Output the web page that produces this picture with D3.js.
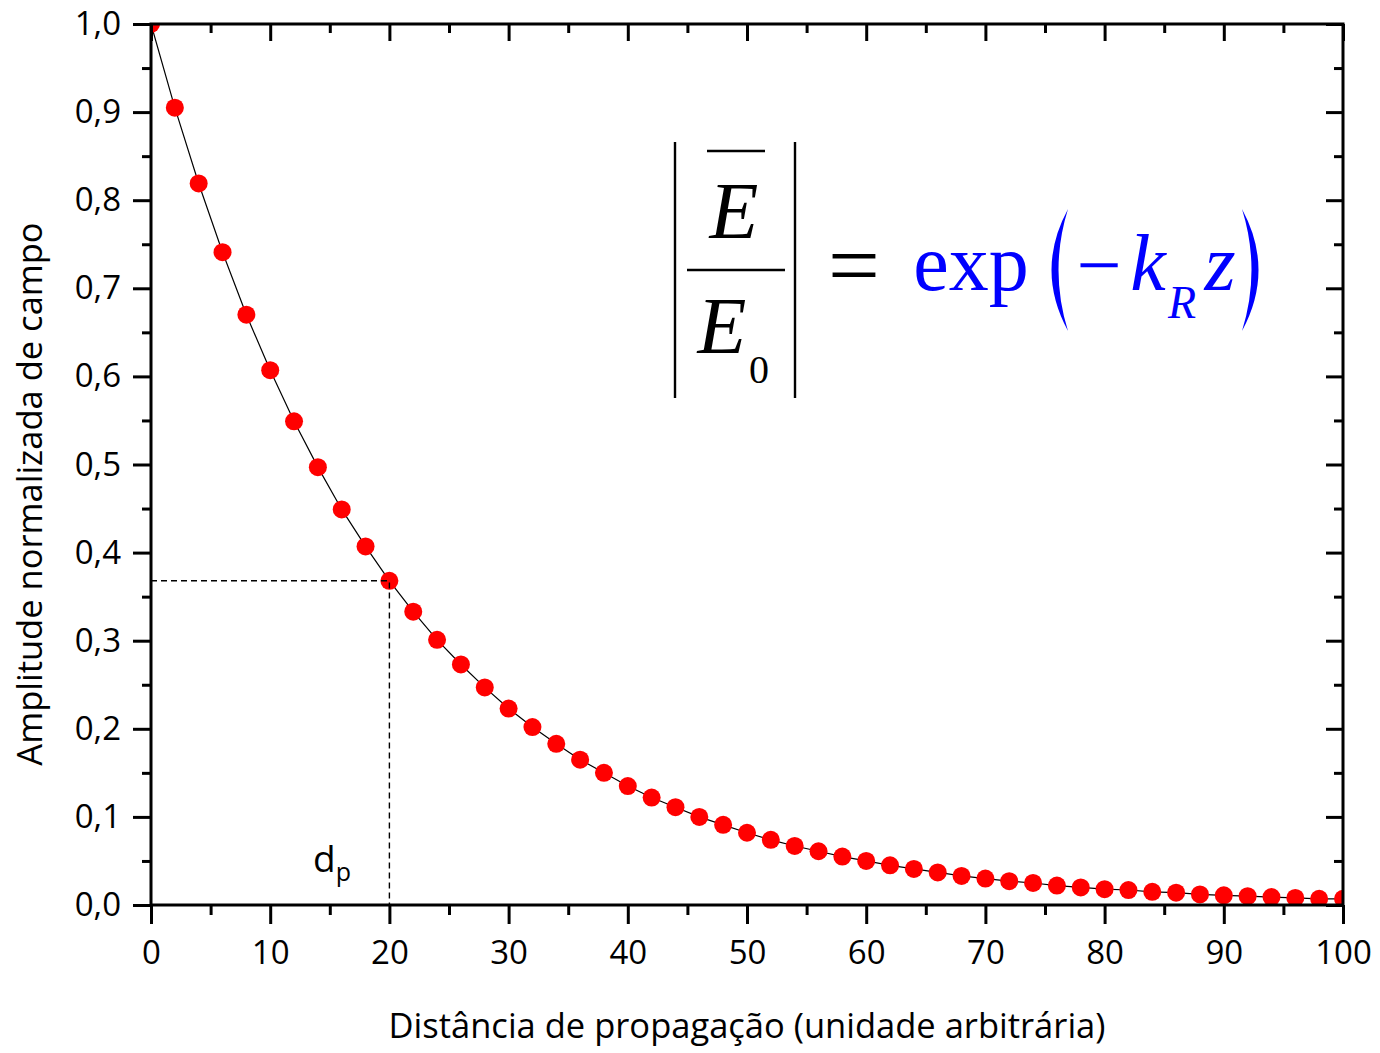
<!DOCTYPE html>
<html>
<head>
<meta charset="utf-8">
<script src="https://cdn.jsdelivr.net/npm/d3@7"></script>
<style>
  body { margin: 0; background: #fff; }
</style>
</head>
<body>
<div id="chart"></div>
<script>
// data
const distance = [0, 2, 4, 6, 8, 10, 12, 14, 16, 18, 20, 22, 24, 26, 28, 30, 32, 34, 36, 38, 40,
  42, 44, 46, 48, 50, 52, 54, 56, 58, 60, 62, 64, 66, 68, 70, 72, 74, 76, 78, 80,
  82, 84, 86, 88, 90, 92, 94, 96, 98, 100];
const amplitude = [1.000, 0.905, 0.819, 0.741, 0.670, 0.607, 0.549, 0.497, 0.449, 0.407, 0.368,
  0.333, 0.301, 0.273, 0.247, 0.223, 0.202, 0.183, 0.165, 0.150, 0.135,
  0.122, 0.111, 0.100, 0.091, 0.082, 0.074, 0.067, 0.061, 0.055, 0.050,
  0.045, 0.041, 0.037, 0.033, 0.030, 0.027, 0.025, 0.022, 0.020, 0.018,
  0.017, 0.015, 0.014, 0.012, 0.011, 0.010, 0.009, 0.008, 0.007, 0.007];
const xTicks = [0, 10, 20, 30, 40, 50, 60, 70, 80, 90, 100];
const yTicks = [0, 0.1, 0.2, 0.3, 0.4, 0.5, 0.6, 0.7, 0.8, 0.9, 1.0];
const dpX = 20;
const dpY = 0.368;

const width = 1380;
const height = 1053;
const margin = {top: 24, right: 37, bottom: 148, left: 151};
const sans = "'Open Sans', sans-serif";
const serif = "'Liberation Serif', 'DejaVu Serif', serif";

const svg = d3.select("#chart").append("svg")
    .attr("width", width)
    .attr("height", height)
    .style("font-family", sans);

const x = d3.scaleLinear().domain([0, 100]).range([margin.left, width - margin.right]);
const y = d3.scaleLinear().domain([0, 1]).range([height - margin.bottom, margin.top]);

const fmt = d => d3.format(".1f")(d).replace(".", ",");
const xMinor = d3.range(0, 101, 5).filter(d => d % 10 !== 0);
const yMinor = d3.range(0.05, 1, 0.1);

// clip to the frame
svg.append("clipPath").attr("id", "clip")
  .append("rect")
    .attr("x", x(0)).attr("y", y(1))
    .attr("width", x(100) - x(0)).attr("height", y(0) - y(1));

const plot = svg.append("g").attr("clip-path", "url(#clip)");

const pts = distance.map((d, i) => [d, amplitude[i]]);

plot.append("path")
    .datum(pts)
    .attr("fill", "none")
    .attr("stroke", "#000")
    .attr("stroke-width", 1.2)
    .attr("d", d3.line().x(d => x(d[0])).y(d => y(d[1])));

plot.selectAll("circle")
  .data(pts)
  .join("circle")
    .attr("cx", d => x(d[0]))
    .attr("cy", d => y(d[1]))
    .attr("r", 9)
    .attr("fill", "#ff0000");

// dashed guide for dp
svg.append("path")
    .attr("fill", "none")
    .attr("stroke", "#000")
    .attr("stroke-width", 1.4)
    .attr("stroke-dasharray", "6,4")
    .attr("d", `M${x(0)},${y(dpY)}H${x(dpX)}V${y(0)}`);

// axes
function styleAxis(g) {
  g.select(".domain").remove();
  g.selectAll(".tick line").attr("stroke", "#000").attr("stroke-width", 3);
  g.selectAll(".tick text").attr("fill", "#000")
    .style("font-size", "33px")
    .style("font-family", sans);
}

svg.append("g")
    .attr("transform", `translate(0,${y(0)})`)
    .call(d3.axisBottom(x).tickValues(xTicks).tickSize(19).tickPadding(17).tickFormat(d3.format("d")))
    .call(styleAxis);
svg.append("g")
    .attr("transform", `translate(0,${y(0)})`)
    .call(d3.axisBottom(x).tickValues(xMinor).tickSize(10).tickFormat(""))
    .call(styleAxis);
svg.append("g")
    .attr("transform", `translate(0,${y(1)})`)
    .call(d3.axisTop(x).tickValues(xTicks).tickSize(-17).tickFormat(""))
    .call(styleAxis);
svg.append("g")
    .attr("transform", `translate(0,${y(1)})`)
    .call(d3.axisTop(x).tickValues(xMinor).tickSize(-9).tickFormat(""))
    .call(styleAxis);

svg.append("g")
    .attr("transform", `translate(${x(0)},0)`)
    .call(d3.axisLeft(y).tickValues(yTicks).tickSize(18).tickPadding(12).tickFormat(fmt))
    .call(styleAxis);
svg.append("g")
    .attr("transform", `translate(${x(0)},0)`)
    .call(d3.axisLeft(y).tickValues(yMinor).tickSize(9).tickFormat(""))
    .call(styleAxis);
svg.append("g")
    .attr("transform", `translate(${x(100)},0)`)
    .call(d3.axisRight(y).tickValues(yTicks).tickSize(-17).tickFormat(""))
    .call(styleAxis);
svg.append("g")
    .attr("transform", `translate(${x(100)},0)`)
    .call(d3.axisRight(y).tickValues(yMinor).tickSize(-9).tickFormat(""))
    .call(styleAxis);

// frame
svg.append("rect")
    .attr("x", x(0)).attr("y", y(1))
    .attr("width", x(100) - x(0)).attr("height", y(0) - y(1))
    .attr("fill", "none")
    .attr("stroke", "#000")
    .attr("stroke-width", 3);

// axis titles
svg.append("text")
    .attr("x", (x(0) + x(100)) / 2)
    .attr("y", 1038)
    .attr("text-anchor", "middle")
    .style("font-size", "34.5px")
    .text("Distância de propagação (unidade arbitrária)");

svg.append("text")
    .attr("transform", "translate(42,494) rotate(-90)")
    .attr("text-anchor", "middle")
    .style("font-size", "34.5px")
    .text("Amplitude normalizada de campo");

// dp label
const dp = svg.append("text")
    .attr("x", 313)
    .attr("y", 872)
    .style("font-size", "37px");
dp.append("tspan").text("d");
dp.append("tspan").attr("dy", 9).style("font-size", "25px").text("p");

// formula
const eq = svg.append("g");
const rule = (x1, y1, x2, y2) => eq.append("line")
    .attr("x1", x1).attr("y1", y1).attr("x2", x2).attr("y2", y2)
    .attr("stroke", "#000").attr("stroke-width", 2.4);
rule(675, 142, 675, 398);
rule(795, 142, 795, 398);
rule(687, 270, 785, 270);
rule(707, 151, 765, 151);

function sym(px, py, size, txt, color, italic, anchor) {
  return eq.append("text")
      .attr("x", px).attr("y", py)
      .attr("text-anchor", anchor || "start")
      .attr("fill", color)
      .style("font-family", serif)
      .style("font-size", size + "px")
      .style("font-style", italic ? "italic" : "normal")
      .text(txt);
}

sym(734, 238, 80, "E", "#000", true, "middle");
sym(722, 353, 80, "E", "#000", true, "middle");
sym(759, 383, 40, "0", "#000", false, "middle");
sym(854, 296, 92, "=", "#000", false, "middle");

const blue = "#0000ff";
sym(971, 290, 80, "exp", blue, false, "middle");
sym(1099, 292, 80, "−", blue, false, "middle");
sym(1148, 290, 80, "k", blue, true, "middle");
sym(1182, 318, 46, "R", blue, true, "middle");
sym(1220, 290, 80, "z", blue, true, "middle");

// big parentheses
eq.append("path")
    .attr("fill", blue)
    .attr("d", "M1068,209Q1035,270 1068,331Q1049,270 1068,209Z");
eq.append("path")
    .attr("fill", blue)
    .attr("d", "M1242,209Q1275,270 1242,331Q1261,270 1242,209Z");
</script>
</body>
</html>
